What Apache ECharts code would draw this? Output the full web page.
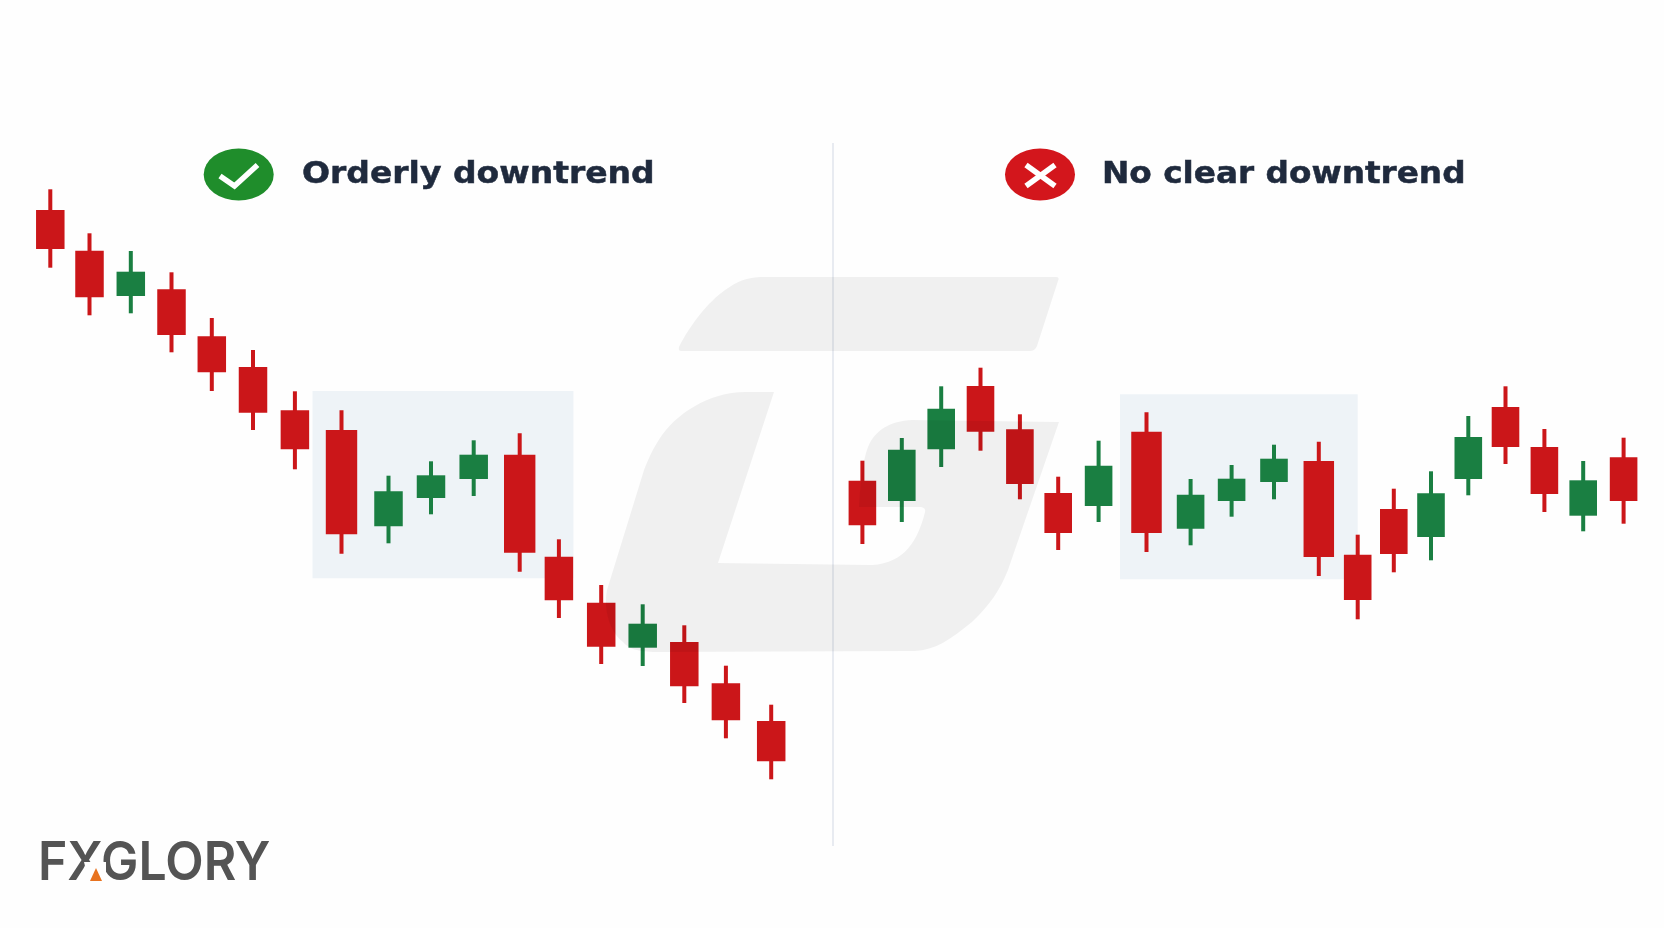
<!DOCTYPE html>
<html>
<head>
<meta charset="utf-8">
<style>html,body{margin:0;padding:0;background:#fefefe}#c{width:1664px;height:928px}</style>
<script src="https://cdn.jsdelivr.net/npm/echarts@6/dist/echarts.min.js"></script>
</head>
<body>
<div id="c"></div>
<script>
// Titles
const leftTitle = 'Orderly downtrend';
const rightTitle = 'No clear downtrend';
const logoText = 'FXGLORY';

// Left panel: candle positions and open / close / low / high readings
const leftTime  = [50.3, 89.5, 130.8, 171.5, 211.8, 253, 294.9, 341.5, 388.5, 431, 473.7, 519.7, 558.9, 601.2, 642.7, 684.3, 725.9, 771.2];
const leftOpen  = [718, 677.3, 632, 638.7, 591.7, 561, 517.7, 498, 401.7, 430, 449, 473.3, 371.3, 325.3, 280.3, 286, 244.7, 207];
const leftClose = [679, 630.7, 656.3, 593, 555.7, 515.3, 478.7, 393.7, 436.7, 452.7, 473.3, 375.3, 327.7, 281.3, 304.3, 241.7, 207.7, 166.7];
const leftLow   = [660.3, 612.7, 614.7, 575.7, 537, 498, 458.7, 374.3, 384.7, 413.7, 432, 356.3, 310, 264, 262, 225, 189.7, 148.7];
const leftHigh  = [738.7, 694.7, 677, 655.7, 610, 578, 536.7, 517.7, 452.3, 466.7, 487.7, 494.7, 388.7, 343, 323.7, 302.7, 262.3, 223.3];

// Right panel
const rightTime  = [862.4, 901.8, 941.2, 980.5, 1019.9, 1058.2, 1098.6, 1146.5, 1190.6, 1231.6, 1274, 1318.8, 1357.7, 1393.8, 1431, 1468.3, 1505.5, 1544.4, 1583.2, 1623.6];
const rightOpen  = [447.3, 427, 478.7, 542, 498.7, 435, 422, 496.3, 399.3, 427, 446, 467, 373.3, 419, 391, 449, 521, 481, 412.3, 470.7];
const rightClose = [402.7, 478.3, 519.3, 496.3, 444, 395, 462.3, 395, 433.3, 449.3, 469.3, 371, 328, 374, 434.7, 491, 481, 434, 447.7, 427];
const rightLow   = [384, 406, 461, 477.3, 428.7, 378, 406, 376, 382.7, 411.3, 428.7, 352, 308.7, 355.7, 367.7, 432.7, 464, 416, 396.7, 404.3];
const rightHigh  = [467.3, 490, 541.7, 560.3, 513.7, 451.3, 487.3, 515.7, 449, 463, 483.3, 486.3, 393.3, 439.3, 456.7, 512, 541.7, 499, 467, 490.3];

// Shaded consolidation zones: [start, end] and [bottom, top]
const leftBandTime = [312.5, 573.4];
const leftBandPrice = [349.7, 537];
const rightBandTime = [1120, 1357.7];
const rightBandPrice = [348.7, 533.7];

const RED = '#cb1619', GREEN = '#1a7f42', BAND = '#eef3f7', INK = '#1f2a3d', LOGO = '#545454';
const MARK_TOP = 'M679 347 C690 325 708 302 725 290 C738 281 745 278 760 277 L1056 277 Q1060 277 1058 281 L1037 346 Q1035 351 1030 351 L681 351 Q678 351 679 347 Z';
const MARK_BOTTOM = 'M774 392 L745 392 C708 392 675 415 660 438 C652 450 648 460 644 470 L607 590 C603 610 610 632 623 642 C630 650 640 652 660 652 L915 651 C935 650 950 640 972 622 C990 605 1000 590 1008 570 L1059 422 L912 420 C890 421 875 430 868 447 C862 462 860 490 859 507 L921 507 Q926 508 925 512 C918 540 905 563 872 565 L718 563 Z';

function rows(t, o, c, l, h) { return t.map((v, i) => [v, o[i], c[i], l[i], h[i]]); }

function candle(bodyW, wideW) {
  return function (params, api) {
    const x = api.value(0), o = api.value(1), c = api.value(2), l = api.value(3), h = api.value(4);
    const color = c >= o ? GREEN : RED;
    const pTop = api.coord([x, Math.max(o, c)]);
    const pBot = api.coord([x, Math.min(o, c)]);
    const pHigh = api.coord([x, h]);
    const pLow = api.coord([x, l]);
    const w = (pBot[1] - pTop[1]) > 90 ? wideW : bodyW;
    return {
      type: 'group',
      children: [
        { type: 'rect', shape: { x: pHigh[0] - 2, y: pHigh[1], width: 4, height: pLow[1] - pHigh[1] }, style: { fill: color } },
        { type: 'rect', shape: { x: pTop[0] - w / 2, y: pTop[1], width: w, height: pBot[1] - pTop[1] }, style: { fill: color } }
      ]
    };
  };
}

function bandItem(params, api) {
  const a = api.coord([api.value(0), api.value(3)]);
  const b = api.coord([api.value(1), api.value(2)]);
  return { type: 'rect', shape: { x: a[0], y: a[1], width: b[0] - a[0], height: b[1] - a[1] }, style: { fill: BAND } };
}

function markItem() {
  return { type: 'group', children: [MARK_TOP, MARK_BOTTOM].map(d => ({
    type: 'path', shape: { pathData: d }, style: { fill: 'rgba(0,0,0,0.055)' }
  })) };
}

const TITLE_FONT = 'bold 30px "DejaVu Sans"';

const chart = echarts.init(document.getElementById('c'), null, { renderer: 'canvas' });
chart.setOption({
  animation: false,
  backgroundColor: '#fefefe',
  grid: { left: 0, right: 0, top: 0, bottom: 0 },
  xAxis: { type: 'value', min: 0, max: 1664, show: false },
  yAxis: { type: 'value', min: 0, max: 928, show: false },
  tooltip: { show: false },
  series: [
    { type: 'custom', name: 'left zone', z: 1, silent: true, renderItem: bandItem, encode: { x: [0, 1], y: [2, 3] },
      data: [[leftBandTime[0], leftBandTime[1], leftBandPrice[0], leftBandPrice[1]]] },
    { type: 'custom', name: 'right zone', z: 1, silent: true, renderItem: bandItem, encode: { x: [0, 1], y: [2, 3] },
      data: [[rightBandTime[0], rightBandTime[1], rightBandPrice[0], rightBandPrice[1]]] },
    { type: 'custom', name: leftTitle, z: 3, renderItem: candle(28.5, 31.4), encode: { x: 0, y: [1, 2, 3, 4] },
      data: rows(leftTime, leftOpen, leftClose, leftLow, leftHigh) },
    { type: 'custom', name: rightTitle, z: 3, renderItem: candle(27.6, 30.5), encode: { x: 0, y: [1, 2, 3, 4] },
      data: rows(rightTime, rightOpen, rightClose, rightLow, rightHigh) },
    { type: 'custom', name: 'watermark', coordinateSystem: 'none', z: 10, silent: true, renderItem: markItem, data: [[0]] }
  ],
  graphic: { elements: [
    // divider
    { type: 'line', z: 2, shape: { x1: 833, y1: 143, x2: 833, y2: 846 }, style: { stroke: '#e0e4ec', lineWidth: 1.5 } },
    // left header
    { type: 'circle', z: 5, x: 238.7, y: 174.5, scaleX: 35 / 26, shape: { cx: 0, cy: 0, r: 26 }, style: { fill: '#1f8d2b' } },
    { type: 'polyline', z: 6, shape: { points: [[220, 176], [234.5, 186], [257.5, 165]] }, style: { stroke: '#ffffff', lineWidth: 5.5, fill: 'none' } },
    { type: 'text', z: 6, x: 302, y: 175, scaleX: 1.1, style: { text: leftTitle, fill: INK, stroke: INK, lineWidth: 0.5, font: TITLE_FONT, textAlign: 'left', textVerticalAlign: 'middle' } },
    // right header
    { type: 'circle', z: 5, x: 1040, y: 174.5, scaleX: 35 / 26, shape: { cx: 0, cy: 0, r: 26 }, style: { fill: '#d3161c' } },
    { type: 'line', z: 6, shape: { x1: 1026, y1: 165, x2: 1055, y2: 186 }, style: { stroke: '#ffffff', lineWidth: 5.5 } },
    { type: 'line', z: 6, shape: { x1: 1055, y1: 165, x2: 1026, y2: 186 }, style: { stroke: '#ffffff', lineWidth: 5.5 } },
    { type: 'text', z: 6, x: 1102, y: 175, scaleX: 1.09, style: { text: rightTitle, fill: INK, stroke: INK, lineWidth: 0.5, font: TITLE_FONT, textAlign: 'left', textVerticalAlign: 'middle' } },
    // logo
    { type: 'text', z: 6, x: 38, y: 864, scaleX: 0.925, style: { text: logoText, fill: LOGO, font: '600 54px Inter', textAlign: 'left', textVerticalAlign: 'middle' } },
    { type: 'polygon', z: 7, shape: { points: [[84, 862], [106, 862], [106, 886], [90, 886]] }, style: { fill: '#fefefe' } },
    { type: 'polygon', z: 8, shape: { points: [[90, 881], [96, 868], [102, 881]] }, style: { fill: '#e8731f' } }
  ] }
});
</script>
</body>
</html>
